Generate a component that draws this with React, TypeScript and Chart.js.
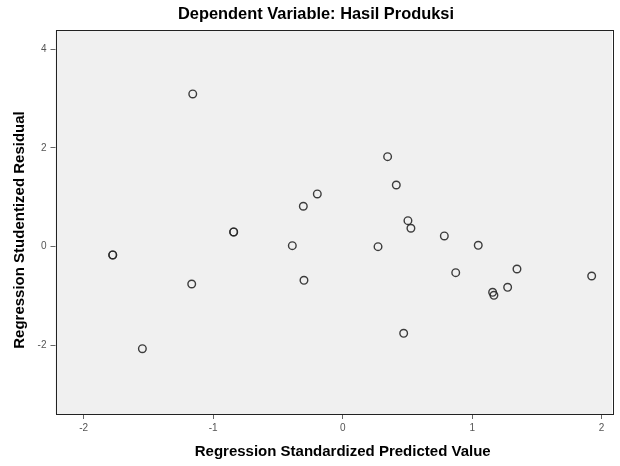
import React, { useEffect, useRef } from "react";
import { Chart, registerables } from "chart.js";

Chart.register(...registerables);

const titleText = "Dependent Variable: Hasil Produksi";
const xTitle = "Regression Standardized Predicted Value";
const yTitle = "Regression Studentized Residual";

const xTicks = [-2, -1, 0, 1, 2];
const yTicks = [4, 2, 0, -2];

const predicted = [
  -1.158, 0.347, 0.414, -0.196, -0.304, 0.504, 0.527, -0.842, -0.842, 0.785,
  -0.389, 1.047, 0.273, -1.776, -1.776, 1.346, 0.873, 1.923, -1.166, -0.299,
  1.274, 1.158, 1.168, 0.471, -1.547,
];
const residual = [
  3.094, 1.824, 1.25, 1.068, 0.819, 0.527, 0.373, 0.298, 0.298, 0.217,
  0.02, 0.028, 0.0, -0.168, -0.168, -0.452, -0.527, -0.594, -0.756, -0.681,
  -0.823, -0.924, -0.985, -1.755, -2.067,
];

const FONT = "'Liberation Sans', Arial, sans-serif";

const framePlugin = {
  id: "frame",
  beforeDatasetsDraw(chart: any) {
    const { ctx, chartArea } = chart;
    ctx.save();
    ctx.fillStyle = "#f0f0f0";
    ctx.fillRect(chartArea.left, chartArea.top, chartArea.right - chartArea.left, chartArea.bottom - chartArea.top);
    ctx.restore();
  },
  afterDraw(chart: any) {
    const { ctx, chartArea, width, height, scales } = chart;
    ctx.save();
    ctx.strokeStyle = "#222";
    ctx.lineWidth = 1;
    ctx.strokeRect(
      Math.round(chartArea.left) + 0.5,
      Math.round(chartArea.top) + 0.5,
      Math.round(chartArea.right - chartArea.left),
      Math.round(chartArea.bottom - chartArea.top)
    );
    ctx.fillStyle = "#000";
    ctx.textAlign = "center";
    ctx.textBaseline = "middle";
    // chart title
    ctx.font = `bold 16.4px ${FONT}`;
    ctx.fillText(titleText, width / 2 + 6, 14);
    // axis titles
    ctx.font = `bold 15px ${FONT}`;
    ctx.fillText(xTitle, scales.x.getPixelForValue(0), height - 14);
    ctx.translate(20, (chartArea.top + chartArea.bottom) / 2 + 8);
    ctx.rotate(-Math.PI / 2);
    ctx.fillText(yTitle, 0, 0);
    ctx.restore();
  },
};

export default function App() {
  const ref = useRef<HTMLCanvasElement | null>(null);
  useEffect(() => {
    if (!ref.current) return;
    const data = predicted.map((x, i) => ({ x, y: residual[i] }));
    const chart = new Chart(ref.current, {
      type: "scatter",
      data: {
        datasets: [
          {
            data,
            pointRadius: 3.8,
            pointHoverRadius: 3.8,
            borderWidth: 1.4,
            borderColor: "rgba(40,40,40,0.9)",
            backgroundColor: "rgba(0,0,0,0)",
          },
        ],
      },
      options: {
        animation: false,
        responsive: false,
        maintainAspectRatio: false,
        layout: { padding: { left: 0, right: 8, top: 30, bottom: 0 } },
        plugins: {
          legend: { display: false },
          tooltip: { enabled: false },
          title: { display: false },
        },
        scales: {
          x: {
            type: "linear",
            min: -2.218,
            max: 2.08,
            afterBuildTicks: (s: any) => {
              s.ticks = xTicks.map((v) => ({ value: v }));
            },
            afterFit: (s: any) => {
              s.height = 52;
            },
            grid: { drawOnChartArea: false, drawTicks: true, tickLength: 5, tickColor: "#666", tickWidth: 1 },
            border: { display: false },
            ticks: { color: "#555", font: { family: FONT, size: 10 }, padding: 3, maxRotation: 0 },
            title: { display: false },
          },
          y: {
            type: "linear",
            min: -3.39,
            max: 4.39,
            afterBuildTicks: (s: any) => {
              s.ticks = yTicks.map((v) => ({ value: v }));
            },
            afterFit: (s: any) => {
              s.width = 55.5;
            },
            grid: { drawOnChartArea: false, drawTicks: true, tickLength: 5, tickColor: "#666", tickWidth: 1 },
            border: { display: false },
            ticks: { color: "#555", font: { family: FONT, size: 10 }, padding: 4 },
            title: { display: false },
          },
        },
      },
      plugins: [framePlugin],
    });
    return () => chart.destroy();
  }, []);
  return (
    <div style={{ position: "fixed", left: 0, top: 0, width: 620, height: 466, background: "#fff" }}>
      <canvas ref={ref} width={620} height={466} style={{ width: 620, height: 466 }} />
    </div>
  );
}
